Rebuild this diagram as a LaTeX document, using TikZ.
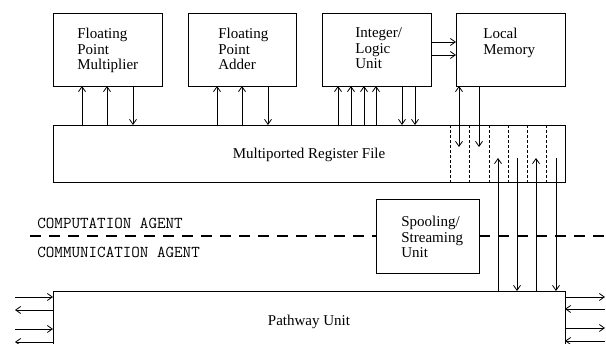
\documentclass[tikz,border=0pt]{standalone}
\usepackage{fontspec}
\setmainfont{Liberation Serif}
\usetikzlibrary{arrows.meta}

\begin{document}
\begin{tikzpicture}[x=1pt,y=-1pt,line width=0.8pt,
  >={Straight Barb[length=5pt,width=7pt]},
  box/.style={draw, inner sep=0pt, outer sep=0pt, anchor=north west},
  lbl/.style={inner sep=0pt, align=left, anchor=north west,
              font=\fontsize{15}{15.5}\selectfont},
  title/.style={inner sep=0pt, anchor=base, font=\fontsize{15}{15.5}\selectfont},
  agent/.style={inner sep=0pt, anchor=base west,
                font=\ttfamily\fontsize{16.6}{18}\selectfont},
  sepline/.style={line width=2.6pt, dash pattern=on 11pt off 8pt},
  portline/.style={dash pattern=on 3pt off 2pt}]
\useasboundingbox (0,0) rectangle (606,344);
\clip (0,0) rectangle (606,344);

% functional units
\node[box, minimum width=109pt, minimum height=73pt] (fpm) at (53,13) {};
\node[box, minimum width=108pt, minimum height=73pt] (fpa) at (188,13) {};
\node[box, minimum width=109pt, minimum height=73pt] (ilu) at (322,13) {};
\node[box, minimum width=109pt, minimum height=73pt] (lm)  at (456,13) {};
\node[box, minimum width=512pt, minimum height=57pt] (rf)  at (53,125) {};
\node[box, fill=white, minimum width=103pt, minimum height=74pt] (sp) at (376,199) {};
\node[box, minimum width=512pt, minimum height=70pt] (pw)  at (53,291) {};

% unit names
\node[lbl] (fpmt) at (77,27.7)  {Floating\\Point\\Multiplier};
\node[lbl] (fpat) at (218,27.7) {Floating\\Point\\Adder};
\node[lbl] (ilut) at (355,27.7) {Integer/\\Logic\\Unit};
\node[lbl] (lmt)  at (483,27.7) {Local\\Memory};
\node[lbl] (spt)  at (401,215.7) {Spooling/\\Streaming\\Unit};
\node[title] (rft) at (rf.center |- 0,159) {Multiported Register File};
\node[title] (pwt) at (pw.center |- 0,326) {Pathway Unit};

% agent boundary
\coordinate (sl) at (30,236);
\coordinate (sr) at (606,236);
\draw[sepline] (sl) -- (sl -| sp.west);
\draw[sepline] (sp.east |- sr) -- (sr);
\node[agent] (comp) at (37,229) {COMPUTATION AGENT};
\node[agent] (comm) at (37,258) {COMMUNICATION AGENT};

% register file ports
\foreach \x in {450,469,489,508,527,546}
  \draw[portline] (rf.north -| \x,0) -- (rf.south -| \x,0);

% unit <-> register file
\foreach \x in {82,107}
  \draw[<-] (fpm.south -| \x,0) -- (rf.north -| \x,0);
\draw[->] (fpm.south -| 133,0) -- (rf.north -| 133,0);
\foreach \x in {217,242}
  \draw[<-] (fpa.south -| \x,0) -- (rf.north -| \x,0);
\draw[->] (fpa.south -| 268,0) -- (rf.north -| 268,0);
\foreach \x in {338,351,364,376}
  \draw[<-] (ilu.south -| \x,0) -- (rf.north -| \x,0);
\foreach \x in {402,415}
  \draw[->] (ilu.south -| \x,0) -- (rf.north -| \x,0);

% integer unit -> local memory
\draw[->] (ilu.east |- 0,42) -- (lm.west |- 0,42);
\draw[->] (ilu.east |- 0,55) -- (lm.west |- 0,55);

% local memory -> register file ports
\coordinate (m1) at (459,147);
\coordinate (m2) at (479,147);
\draw[<->] (lm.south -| m1) -- (m1);
\draw[->]  (lm.south -| m2) -- (m2);

% pathway unit <-> register file ports
\coordinate (p1) at (498,158);
\coordinate (p2) at (517,158);
\coordinate (p3) at (536,158);
\coordinate (p4) at (556,158);
\draw[->] (pw.north -| p1) -- (p1);
\draw[<-] (pw.north -| p2) -- (p2);
\draw[->] (pw.north -| p3) -- (p3);
\draw[<-] (pw.north -| p4) -- (p4);

% external links
\coordinate (la1) at (15,297);
\coordinate (la2) at (15,310);
\coordinate (la3) at (15,329);
\coordinate (la4) at (15,342);
\draw[->] (la1) -- (la1 -| pw.west);
\draw[<-] (la2) -- (la2 -| pw.west);
\draw[->] (la3) -- (la3 -| pw.west);
\draw[<-] (la4) -- (la4 -| pw.west);
\coordinate (ra1) at (605,297);
\coordinate (ra2) at (605,309);
\coordinate (ra3) at (605,328);
\coordinate (ra4) at (605,341);
\draw[->] (pw.east |- ra1) -- (ra1);
\draw[<-] (pw.east |- ra2) -- (ra2);
\draw[->] (pw.east |- ra3) -- (ra3);
\draw[<-] (pw.east |- ra4) -- (ra4);
\end{tikzpicture}
\end{document}
